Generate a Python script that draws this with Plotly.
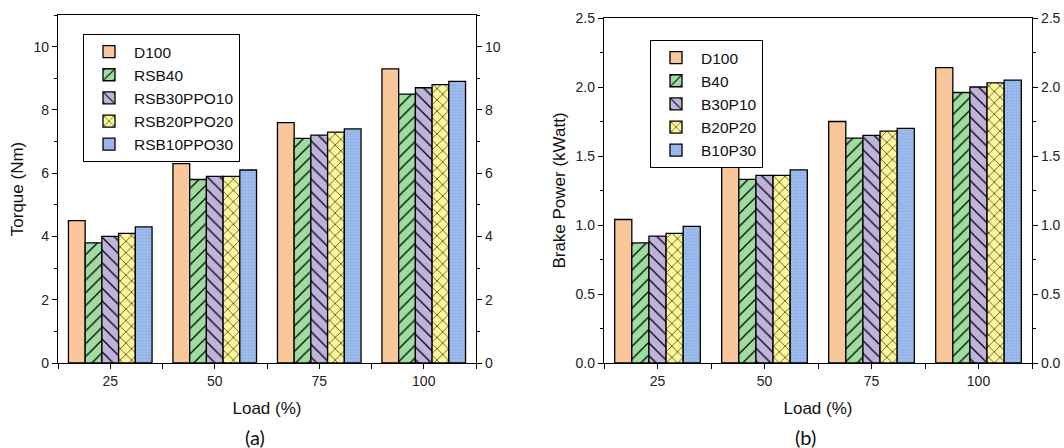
import plotly.graph_objects as go

loads = ["25", "50", "75", "100"]

torque_series = ["D100", "RSB40", "RSB30PPO10", "RSB20PPO20", "RSB10PPO30"]
torque_D100 = [4.5, 6.3, 7.6, 9.3]
torque_RSB40 = [3.8, 5.8, 7.1, 8.5]
torque_RSB30PPO10 = [4.0, 5.9, 7.2, 8.7]
torque_RSB20PPO20 = [4.1, 5.9, 7.3, 8.8]
torque_RSB10PPO30 = [4.3, 6.1, 7.4, 8.9]

power_series = ["D100", "B40", "B30P10", "B20P20", "B10P30"]
power_D100 = [1.04, 1.45, 1.75, 2.14]
power_B40 = [0.87, 1.33, 1.63, 1.96]
power_B30P10 = [0.92, 1.36, 1.65, 2.00]
power_B20P20 = [0.94, 1.36, 1.68, 2.03]
power_B10P30 = [0.99, 1.40, 1.70, 2.05]

torque_values = [torque_D100, torque_RSB40, torque_RSB30PPO10, torque_RSB20PPO20, torque_RSB10PPO30]
power_values = [power_D100, power_B40, power_B30P10, power_B20P20, power_B10P30]

colors = ["#FAC79B", "#9FDCA0", "#BFB3DC", "#FEF799", "#9DBCEE"]
shapes = ["", "/", "\\", "x", "."]
fg = ["#000000", "#000000", "#000000", "#000000", "#8AA9E0"]
sol = [0.15, 0.14, 0.14, 0.14, 0.25]
psize = [8, 9, 9, 8, 3]

xpos = list(range(len(loads)))
FONT = "Liberation Sans, Arial, sans-serif"

fig = go.Figure()

def add_bars(names, vals, xa, ya, legend):
    for i, (n, v) in enumerate(zip(names, vals)):
        fig.add_trace(go.Bar(
            x=xpos, y=v, name=n, xaxis=xa, yaxis=ya, legend=legend,
            marker=dict(color=colors[i], line=dict(color="black", width=1.3),
                        pattern=dict(shape=shapes[i], fgcolor=fg[i], bgcolor=colors[i],
                                     size=psize[i], solidity=sol[i], fillmode="replace")),
        ))

add_bars(torque_series, torque_values, "x", "y", "legend")
add_bars(power_series, power_values, "x2", "y2", "legend2")

# invisible helper traces so the mirrored right-hand axes get drawn
fig.add_trace(go.Scatter(x=xpos, y=torque_D100, xaxis="x", yaxis="y3", mode="markers",
                         marker=dict(opacity=0), showlegend=False, hoverinfo="skip"))
fig.add_trace(go.Scatter(x=xpos, y=power_D100, xaxis="x2", yaxis="y4", mode="markers",
                         marker=dict(opacity=0), showlegend=False, hoverinfo="skip"))

xdom1 = [58 / 1064, 476 / 1064]
xdom2 = [604 / 1064, 1032 / 1064]
ydom1 = [1 - 363 / 448, 1 - 15 / 448]
ydom2 = [1 - 363 / 448, 1 - 18 / 448]

tickfont = dict(family=FONT, size=14, color="#222")
titlefont = dict(family=FONT, size=17, color="#111")

def xaxis_cfg(dom, anchor):
    return dict(domain=dom, anchor=anchor, range=[-0.5, len(loads) - 0.5],
                tickmode="array", tickvals=xpos, ticktext=loads,
                ticks="outside", ticklen=5, tickwidth=1.2, tickcolor="black",
                minor=dict(ticks="outside", ticklen=5, tickwidth=1.2, tickcolor="black",
                           tick0=-0.5, dtick=1),
                showline=True, linecolor="black", linewidth=1.3, mirror=True,
                showgrid=False, zeroline=False, tickfont=tickfont, automargin=False,
                title=dict(text="Load (%)", font=titlefont, standoff=14))

def yaxis_cfg(dom, anchor, rng, dtick, fmt, title, side="left", overlay=None):
    d = dict(domain=dom, anchor=anchor, range=rng, dtick=dtick, tick0=0, tickformat=fmt,
             ticks="outside", ticklen=5, tickwidth=1.2, tickcolor="black",
             minor=dict(ticks="outside", ticklen=3, tickwidth=1.2, tickcolor="black",
                        dtick=dtick / 2, tick0=0),
             showline=True, linecolor="black", linewidth=1.3, automargin=False,
             showgrid=False, zeroline=False, tickfont=tickfont, side=side)
    if title:
        d["title"] = dict(text=title, font=titlefont, standoff=5)
    if overlay:
        d["overlaying"] = overlay
    return d

legend_font = dict(family=FONT, size=15.5, color="#111")

fig.update_layout(
    template="none",
    width=1064, height=448,
    margin=dict(l=0, r=0, t=0, b=0, autoexpand=False),
    paper_bgcolor="white", plot_bgcolor="white",
    barmode="group", bargap=0.2, bargroupgap=0,
    font=dict(family=FONT, color="#111"),
    xaxis=xaxis_cfg(xdom1, "y"),
    xaxis2=xaxis_cfg(xdom2, "y2"),
    yaxis=yaxis_cfg(ydom1, "x", [0, 11], 2, "d", "Torque (Nm)"),
    yaxis2=yaxis_cfg(ydom2, "x2", [0, 2.5], 0.5, ".1f", "Brake Power (kWatt)"),
    yaxis3=yaxis_cfg(ydom1, "x", [0, 11], 2, "d", None, side="right", overlay="y"),
    yaxis4=yaxis_cfg(ydom2, "x2", [0, 2.5], 0.5, ".1f", None, side="right", overlay="y2"),
    legend=dict(x=83 / 1064, y=1 - 34 / 448, xanchor="left", yanchor="top",
                bordercolor="black", borderwidth=1, bgcolor="white",
                font=legend_font, tracegroupgap=0, itemwidth=40),
    legend2=dict(x=650 / 1064, y=1 - 40 / 448, xanchor="left", yanchor="top",
                 bordercolor="black", borderwidth=1, bgcolor="white",
                 font=legend_font, tracegroupgap=0, itemwidth=40),
    showlegend=True,
    annotations=[
        dict(text="(a)", x=255 / 1064, y=1 - 437 / 448, xref="paper", yref="paper",
             xanchor="center", yanchor="middle",
             showarrow=False, font=dict(family="Lato, sans-serif", size=20, color="#111")),
        dict(text="(b)", x=805 / 1064, y=1 - 437 / 448, xref="paper", yref="paper",
             xanchor="center", yanchor="middle",
             showarrow=False, font=dict(family="Lato, sans-serif", size=20, color="#111")),
    ],
)

fig.write_html("out.html", config={"displayModeBar": False},
               post_script="document.body.style.margin='0px';")
